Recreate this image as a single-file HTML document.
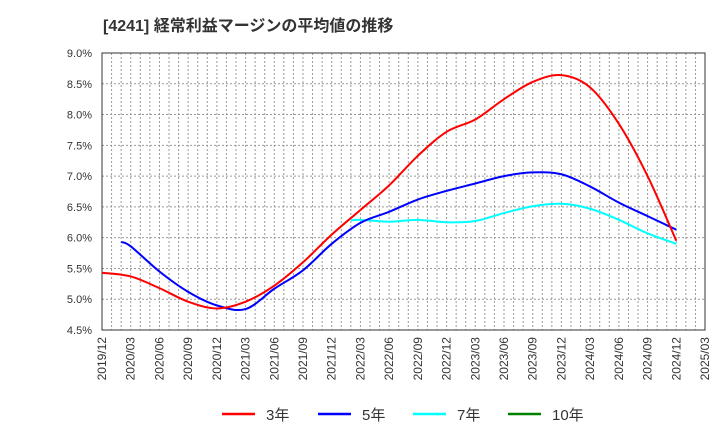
<!DOCTYPE html>
<html><head><meta charset="utf-8"><style>
body{margin:0;background:#fff;}
svg{display:block;font-family:"Liberation Sans","Noto Sans CJK JP",sans-serif;}
</style></head><body>
<svg id="chart" width="720" height="440">
<text x="103" y="31" font-size="16" font-weight="bold" fill="#333">[4241]  経常利益マージンの平均値の推移</text>
<g id="grid"></g><g id="axes"></g><g id="series"></g><g id="legend"></g>
</svg>
<script>
const xLabels=["2019/12","2020/03","2020/06","2020/09","2020/12","2021/03","2021/06","2021/09","2021/12","2022/03","2022/06","2022/09","2022/12","2023/03","2023/06","2023/09","2023/12","2024/03","2024/06","2024/09","2024/12","2025/03"];
const yTicks=[4.5,5.0,5.5,6.0,6.5,7.0,7.5,8.0,8.5,9.0];
const redMonths=[0,3,6,9,12,15,18,21,24,27,30,33,36,39,42,45,48,51,54,57,60];
const redValues=[5.43,5.37,5.18,4.96,4.85,4.96,5.22,5.60,6.05,6.45,6.85,7.33,7.72,7.92,8.25,8.53,8.64,8.44,7.85,7.0,5.95];
const blueMonths=[2,3,6,9,12,15,18,21,24,27,30,33,36,39,42,45,48,51,54,57,60];
const blueValues=[5.93,5.86,5.45,5.12,4.90,4.84,5.17,5.47,5.90,6.24,6.42,6.62,6.76,6.88,7.00,7.06,7.03,6.83,6.57,6.35,6.13];
const cyanMonths=[26,27,30,33,36,39,42,45,48,51,54,57,60];
const cyanValues=[6.28,6.29,6.26,6.29,6.25,6.27,6.40,6.51,6.55,6.47,6.29,6.07,5.90];
const L=102,R=705,T=53,B=330,NM=63,ymin=4.5,ymax=9.0;
const X=i=>L+i*(R-L)/NM;
const Y=v=>B-(v-ymin)*(B-T)/(ymax-ymin);
const NS="http://www.w3.org/2000/svg";
function mk(tag,attrs,parent){const e=document.createElementNS(NS,tag);for(const k in attrs)e.setAttribute(k,attrs[k]);parent.appendChild(e);return e;}
const grid=document.getElementById('grid'),axes=document.getElementById('axes'),series=document.getElementById('series'),legend=document.getElementById('legend');
for(let i=1;i<NM;i++){const l=mk('line',{x1:X(i),x2:X(i),y1:T,y2:B,stroke:'#999','stroke-dasharray':'2,2','stroke-width':1},grid);

}
yTicks.forEach(v=>{if(v>ymin&&v<ymax){const l=mk('line',{x1:L,x2:R,y1:Y(v),y2:Y(v),stroke:'#999','stroke-dasharray':'2,2','stroke-width':1},grid);

}
const t=mk('text',{x:92,y:Y(v)+4,'text-anchor':'end','font-size':11,fill:'#333'},axes);t.textContent=v.toFixed(1)+'%';

});
const fr=mk('rect',{x:L,y:T,width:R-L,height:B-T,fill:'none',stroke:'#333','stroke-width':1},axes);


xLabels.forEach((s,k)=>{const x=X(k*3);const t=mk('text',{transform:`translate(${x+4},337) rotate(-90)`,'text-anchor':'end','font-size':12,fill:'#333'},axes);t.textContent=s;

});
function path(ms,vs){const p=ms.map((m,i)=>[X(m),Y(vs[i])]);let d=`M${p[0][0]},${p[0][1]}`;
for(let i=0;i<p.length-1;i++){const p0=p[i-1]||p[i],p1=p[i],p2=p[i+1],p3=p[i+2]||p2;
const c1=[p1[0]+(p2[0]-p0[0])/6,p1[1]+(p2[1]-p0[1])/6],c2=[p2[0]-(p3[0]-p1[0])/6,p2[1]-(p3[1]-p1[1])/6];
d+=`C${c1[0]},${c1[1]} ${c2[0]},${c2[1]} ${p2[0]},${p2[1]}`;}return d;}
[[cyanMonths,cyanValues,'#00ffff','line-7yr'],[blueMonths,blueValues,'#0000ff','line-5yr'],[redMonths,redValues,'#ff0000','line-3yr']].forEach(s=>{
const e=mk('path',{d:path(s[0],s[1]),fill:'none',stroke:s[2],'stroke-width':2},series);

});
[['3年','#ff0000',222],['5年','#0000ff',318],['7年','#00ffff',413],['10年','#008000',508]].forEach(s=>{
const l=mk('line',{x1:s[2],x2:s[2]+33,y1:414,y2:414,stroke:s[1],'stroke-width':2.5},legend);


const t=mk('text',{x:s[2]+44,y:420,'font-size':15,fill:'#333'},legend);t.textContent=s[0];

});
</script>
</body></html>
